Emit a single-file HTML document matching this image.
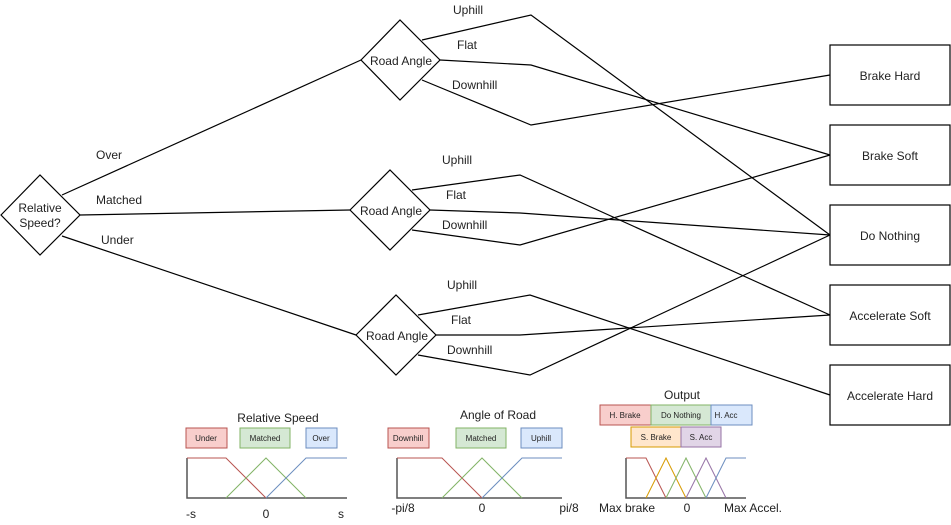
<!DOCTYPE html>
<html><head><meta charset="utf-8"><style>
body{margin:0;background:#fff;width:951px;height:525px;overflow:hidden}
svg{display:block}
text{font-family:"Liberation Sans",sans-serif;fill:#222}
</style></head><body>
<svg width="951" height="525" viewBox="0 0 951 525">
<g fill="none" stroke="#000" stroke-width="1.2">
<polygon points="1,215 40,175 80,215 40,255" fill="#fff"/>
<polygon points="361,60 400,20 440,60 400,100" fill="#fff"/>
<polygon points="350,210 390,170 430,210 390,250" fill="#fff"/>
<polygon points="356,335 396,295 436,335 396,375" fill="#fff"/>
<polyline points="62,195 361,60"/>
<polyline points="80,215 350,210"/>
<polyline points="62,236 356,335"/>
<polyline points="422,40 531,15 830,235"/>
<polyline points="440,60 531,65 830,155"/>
<polyline points="422,80 531,125 830,75"/>
<polyline points="412,190 520,175 830,315"/>
<polyline points="430,210 520,213 830,235"/>
<polyline points="412,230 520,245 830,155"/>
<polyline points="418,315 530,295 830,395"/>
<polyline points="436,335 520,335 830,315"/>
<polyline points="418,355 530,375 830,235"/>
<rect x="830" y="45" width="120" height="60"/>
<rect x="830" y="125" width="120" height="60"/>
<rect x="830" y="205" width="120" height="60"/>
<rect x="830" y="285" width="120" height="60"/>
<rect x="830" y="365" width="120" height="60"/>
</g>
<g font-size="12" text-anchor="middle">
<text x="40" y="212">Relative</text><text x="40" y="227">Speed?</text>
<text x="401" y="65">Road Angle</text>
<text x="391" y="215">Road Angle</text>
<text x="397" y="340">Road Angle</text>
<text x="890" y="80">Brake Hard</text>
<text x="890" y="160">Brake Soft</text>
<text x="890" y="240">Do Nothing</text>
<text x="890" y="320">Accelerate Soft</text>
<text x="890" y="400">Accelerate Hard</text>
</g>
<g font-size="12">
<text x="96" y="159">Over</text><text x="96" y="204">Matched</text><text x="101" y="244">Under</text>
<text x="453" y="14">Uphill</text><text x="457" y="49">Flat</text><text x="452" y="89">Downhill</text>
<text x="442" y="164">Uphill</text><text x="446" y="199">Flat</text><text x="442" y="229">Downhill</text>
<text x="447" y="289">Uphill</text><text x="451" y="324">Flat</text><text x="447" y="354">Downhill</text>
</g>
<!-- Relative speed chart -->
<text x="278" y="422" font-size="12" text-anchor="middle">Relative Speed</text>
<g font-size="8" text-anchor="middle">
<rect x="186" y="428" width="41" height="20" fill="#f8cecc" stroke="#b85450"/><text x="206" y="441" fill="#555">Under</text>
<rect x="240" y="428" width="50" height="20" fill="#d5e8d4" stroke="#82b366"/><text x="265" y="441" fill="#555">Matched</text>
<rect x="306" y="428" width="31" height="20" fill="#dae8fc" stroke="#6c8ebf"/><text x="321" y="441" fill="#555">Over</text>
<rect x="388" y="428" width="41" height="20" fill="#f8cecc" stroke="#b85450"/><text x="408" y="441" fill="#555">Downhill</text>
<rect x="456" y="428" width="50" height="20" fill="#d5e8d4" stroke="#82b366"/><text x="481" y="441" fill="#555">Matched</text>
<rect x="521" y="428" width="41" height="20" fill="#dae8fc" stroke="#6c8ebf"/><text x="541" y="441" fill="#555">Uphill</text>
<rect x="600" y="405" width="51" height="20" fill="#f8cecc" stroke="#b85450"/><text x="625" y="418" fill="#555">H. Brake</text>
<rect x="651" y="405" width="60" height="20" fill="#d5e8d4" stroke="#82b366"/><text x="681" y="418" fill="#555">Do Nothing</text>
<rect x="711" y="405" width="41" height="20" fill="#dae8fc" stroke="#6c8ebf"/><text x="726" y="418" fill="#555">H. Acc</text>
<rect x="631" y="427" width="50" height="20" fill="#ffe6cc" stroke="#d79b00"/><text x="656" y="440" fill="#555">S. Brake</text>
<rect x="681" y="427" width="40" height="20" fill="#e1d5e7" stroke="#9673a6"/><text x="701" y="440" fill="#555">S. Acc</text>
</g>
<g fill="none" stroke-width="1">
<polyline points="187,458 187,498 347,498" stroke="#555" stroke-width="1.5"/>
<polyline points="187,458 226,458 266,498" stroke="#b85450"/>
<polyline points="226,498 266,458 306,498" stroke="#82b366"/>
<polyline points="266,498 306,458 347,458" stroke="#6c8ebf"/>
<polyline points="397,458 397,498 562,498" stroke="#555" stroke-width="1.5"/>
<polyline points="397,458 442,458 482,498" stroke="#b85450"/>
<polyline points="442,498 482,458 522,498" stroke="#82b366"/>
<polyline points="482,498 522,458 562,458" stroke="#6c8ebf"/>
<polyline points="626,458 626,498 746,498" stroke="#555" stroke-width="1.5"/>
<polyline points="626,458 646,458 666,498" stroke="#b85450"/>
<polyline points="646,498 666,458 686,498" stroke="#d79b00"/>
<polyline points="666,498 686,458 706,498" stroke="#82b366"/>
<polyline points="686,498 706,458 726,498" stroke="#9673a6"/>
<polyline points="706,498 726,458 746,458" stroke="#6c8ebf"/>
</g>
<text x="498" y="419" font-size="12" text-anchor="middle">Angle of Road</text>
<text x="682" y="399" font-size="12" text-anchor="middle">Output</text>
<g font-size="12" text-anchor="middle">
<text x="191" y="518">-s</text><text x="266" y="518">0</text><text x="341" y="518">s</text>
<text x="403" y="512">-pi/8</text><text x="482" y="512">0</text><text x="569" y="512">pi/8</text>
<text x="627" y="512">Max brake</text><text x="687" y="512">0</text><text x="753" y="512">Max Accel.</text>
</g>
</svg>
</body></html>
